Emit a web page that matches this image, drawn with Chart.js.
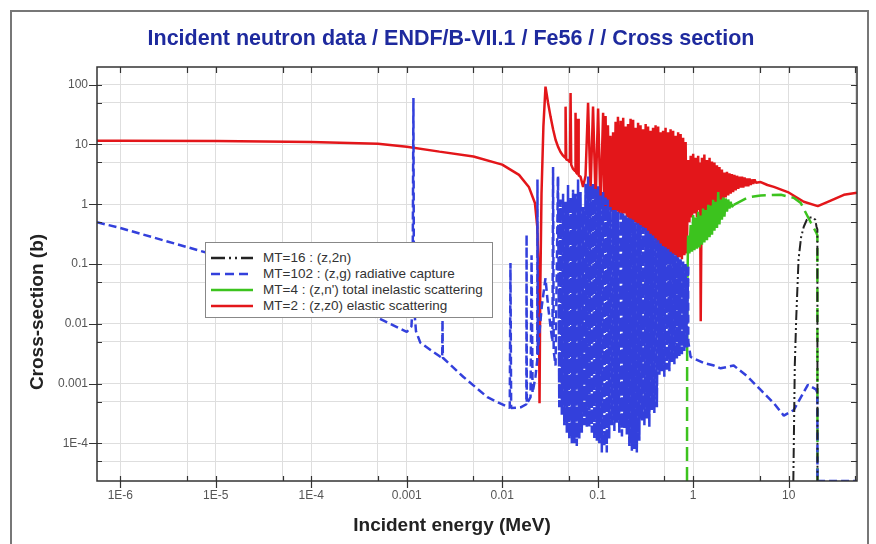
<!DOCTYPE html>
<html>
<head>
<meta charset="utf-8">
<script src="https://cdn.jsdelivr.net/npm/chart.js@4.4.0/dist/chart.umd.min.js"></script>
<style>
  body { margin: 0; background: #fff; }
  #wrap { position: relative; width: 876px; height: 544px; overflow: hidden;
          font-family: "Liberation Sans", Arial, sans-serif; }
  #frame { position: absolute; left: 10px; top: 10px; width: 859px; height: 560px;
           border: 2px solid #777; box-sizing: border-box; }
  #xs { position: absolute; left: 0; top: 0; }
  #title { position: absolute; left: 0; top: 25px; width: 902px; text-align: center;
           font-weight: bold; font-size: 21.5px; line-height: 26px; color: #1e2a9e; }
  #xtitle { position: absolute; left: 0; top: 513px; width: 904px; text-align: center;
            font-weight: bold; font-size: 19px; line-height: 24px; color: #222; }
  #ytitle { position: absolute; left: -63px; top: 300px; width: 200px; text-align: center;
            font-weight: bold; font-size: 19px; line-height: 24px; color: #222;
            transform: rotate(-90deg); }
  #legend { position: absolute; left: 205px; top: 242px; width: 288px; height: 76px;
            box-sizing: border-box; border: 1px solid #888; background: #fff; padding-top: 7px; }
  #legend .row { position: relative; height: 16px; font-size: 13.5px; line-height: 16px; color: #333; }
  #legend svg { position: absolute; left: 5px; top: 3px; }
  #legend span { position: absolute; left: 57px; top: 0; white-space: nowrap; }
</style>
</head>
<body>
<div id="wrap">
  <div id="frame"></div>
  <canvas id="xs" width="876" height="544"></canvas>
  <div id="title">Incident neutron data / ENDF/B-VII.1 / Fe56 / / Cross section</div>
  <div id="xtitle">Incident energy (MeV)</div>
  <div id="ytitle">Cross-section (b)</div>
  <div id="legend"></div>
</div>
<script>
// axis ticks
const xTickValues = [1e-6, 1e-5, 1e-4, 1e-3, 1e-2, 0.1, 1, 10];
const xTickLabels = ['1E-6', '1E-5', '1E-4', '0.001', '0.01', '0.1', '1', '10'];
const xMinorTicks = [5e-6, 5e-5, 5e-4, 5e-3, 0.05, 0.5, 5, 50];
const yTickValues = [1e-4, 1e-3, 0.01, 0.1, 1, 10, 100];
const yTickLabels = ['1E-4', '0.001', '0.01', '0.1', '1', '10', '100'];
const yMinorTicks = [5e-5, 5e-4, 5e-3, 0.05, 0.5, 5, 50];

// [energy MeV, cross-section b]
const n2nMT16 = [
  [11.2, 2.34e-5], [11.6, 0.002], [12.0, 0.012], [12.7, 0.12], [13.5, 0.28], [14.4, 0.42],
  [15.5, 0.55], [16.5, 0.6], [18.0, 0.6], [19.0, 0.55], [19.6, 0.42], [20.0, 0.38], [20.05, 2.34e-5]
];

const captureMT102 = [
  [5.7e-7, 0.5], [1e-6, 0.4], [1e-5, 0.14], [1e-4, 0.045], [5e-4, 0.0125], [1e-3, 0.0073],
  [1.12e-3, 0.009], [1.15e-3, 0.02], [1.175e-3, 60], [1.19e-3, 0.02], [1.25e-3, 0.0075],
  [1.39e-3, 4.8e-3], [2.25e-3, 2.8e-3], [2.35e-3, 2.7e-3], [2.37e-3, 0.0115], [2.39e-3, 2.7e-3],
  [3.9e-3, 1.3e-3], [7.0e-3, 5.9e-4], [1.2e-2, 3.9e-4], [1.22e-2, 0.104], [1.24e-2, 3.9e-4],
  [1.56e-2, 4.0e-4], [1.79e-2, 4.5e-4], [1.80e-2, 0.31], [1.81e-2, 4.6e-4], [1.98e-2, 5.9e-4],
  [2.03e-2, 0.14], [2.08e-2, 7e-4], [2.23e-2, 1.3e-3], [2.33e-2, 2.5e-3], [2.34e-2, 2.6],
  [2.36e-2, 3e-3], [2.40e-2, 4.8e-3], [2.6e-2, 0.02], [2.84e-2, 0.058], [3.02e-2, 0.02],
  [3.21e-2, 8.8e-3], [3.36e-2, 5e-3], [3.41e-2, 4.2], [3.46e-2, 3.5e-3], [3.62e-2, 2e-3],
  [3.84e-2, 2.9], [3.96e-2, 4e-4], [4.08e-2, 1.2], [4.21e-2, 3e-4], [4.34e-2, 1.5],
  [4.47e-2, 2e-4], [4.61e-2, 1.1], [4.75e-2, 1.5e-4], [4.89e-2, 2.1], [5.04e-2, 1.2e-4],
  [5.2e-2, 1.3], [5.36e-2, 1e-4], [5.52e-2, 1.75], [5.69e-2, 1e-4], [5.86e-2, 1.5],
  [6.04e-2, 9e-5], [6.23e-2, 2.6], [6.42e-2, 1.2e-4], [6.61e-2, 1.6], [6.82e-2, 1.5e-4],
  [7.03e-2, 0.9], [7.24e-2, 2e-4], [7.46e-2, 2.2], [7.69e-2, 1.9e-4], [7.93e-2, 2.9],
  [8.17e-2, 1.9e-4], [8.42e-2, 2.0], [8.68e-2, 1.5e-4], [8.94e-2, 2.2], [9.22e-2, 1.2e-4],
  [9.5e-2, 1.8], [9.8e-2, 1.1e-4], [0.101, 2.0], [0.104, 1.0e-4], [0.107, 1.4], [0.1105, 7e-5],
  [0.114, 1.6], [0.1175, 9e-5], [0.121, 1.3], [0.1245, 7e-5], [0.128, 1.2], [0.132, 1.2e-4],
  [0.136, 0.9], [0.1405, 2e-4], [0.145, 0.8], [0.1495, 1.6e-4], [0.154, 0.8], [0.1585, 2.2e-4],
  [0.163, 0.75], [0.1685, 1.5e-4], [0.174, 0.72], [0.1795, 1.3e-4], [0.185, 0.7], [0.1905, 1.8e-4],
  [0.196, 0.65], [0.202, 1.4e-4], [0.208, 0.6], [0.2145, 9e-5], [0.221, 0.58], [0.228, 7.5e-5],
  [0.235, 0.55], [0.242, 8e-5], [0.249, 0.5], [0.257, 7e-5], [0.265, 0.48], [0.273, 1.1e-4],
  [0.281, 0.45], [0.290, 2.4e-4], [0.299, 0.42], [0.3085, 2e-4], [0.318, 0.4], [0.3275, 2.6e-4],
  [0.337, 0.36], [0.3475, 1.9e-4], [0.358, 0.32], [0.369, 3.6e-4], [0.380, 0.3], [0.392, 3.2e-4],
  [0.404, 0.27], [0.417, 4e-4], [0.430, 0.25], [0.443, 1.4e-3], [0.456, 0.22], [0.470, 1.6e-3],
  [0.484, 0.2], [0.499, 1.3e-3], [0.514, 0.19], [0.530, 1.7e-3], [0.547, 0.18], [0.5635, 1.6e-3],
  [0.580, 0.16], [0.5985, 2.3e-3], [0.617, 0.15], [0.636, 2.1e-3], [0.655, 0.14], [0.6755, 2.6e-3],
  [0.696, 0.13], [0.7175, 2.9e-3], [0.739, 0.12], [0.762, 3.1e-3], [0.785, 0.11], [0.8095, 3.5e-3],
  [0.834, 0.1], [0.8595, 4e-3], [0.885, 0.09], [0.89, 5e-3], [0.94, 2.8e-3], [1.29, 2.2e-3],
  [1.65, 2.0e-3], [1.94, 1.8e-3], [2.66, 2.0e-3], [3.73, 1.3e-3], [5.1, 7.8e-4], [7.0, 4.7e-4],
  [8.9, 2.9e-4], [11.3, 3.6e-4], [15.9, 9.5e-4], [19.3, 8e-4], [20.0, 7e-4], [20.05, 2.34e-5],
  [52, 2.34e-5]
];

const inelasticMT4 = [
  [0.862, 2.34e-5], [0.866, 0.02], [0.872, 0.06], [0.88, 0.15], [0.885, 0.3], [0.913, 0.15],
  [0.942, 0.45], [0.9705, 0.16], [1.0, 0.66], [1.031, 0.17], [1.062, 0.6], [1.095, 0.18],
  [1.128, 0.75], [1.164, 0.19], [1.20, 0.65], [1.235, 0.21], [1.27, 0.85], [1.31, 0.23],
  [1.35, 0.8], [1.395, 0.25], [1.44, 0.98], [1.485, 0.28], [1.53, 0.95], [1.575, 0.31],
  [1.62, 1.19], [1.67, 0.36], [1.72, 1.1], [1.775, 0.4], [1.83, 1.6], [1.885, 0.46],
  [1.94, 1.2], [2.0, 0.55], [2.06, 1.3], [2.125, 0.62], [2.19, 1.25], [2.26, 0.75],
  [2.33, 1.2], [2.40, 0.85], [2.47, 1.1], [2.545, 0.9], [2.66, 0.98], [3.73, 1.3],
  [5.1, 1.4], [8.3, 1.44], [11.3, 1.28], [13.4, 1.05], [17.1, 0.49], [19.6, 0.33], [20.0, 0.3],
  [20.05, 2.34e-5]
];

const elasticMT2 = [
  [5.7e-7, 11.6], [1e-6, 11.6], [1e-5, 11.4], [1e-4, 11.0], [5e-4, 10.3], [1e-3, 9.2],
  [2.2e-3, 7.6], [5e-3, 6.3], [1e-2, 4.6], [1.5e-2, 3.1], [1.9e-2, 1.95], [2.2e-2, 1.05],
  [2.33e-2, 0.42], [2.42e-2, 0.05], [2.46e-2, 4.7e-4], [2.5e-2, 0.03], [2.58e-2, 1.5],
  [2.7e-2, 20], [2.84e-2, 93], [3.02e-2, 50], [3.21e-2, 29], [3.41e-2, 18], [3.62e-2, 12],
  [3.84e-2, 9.2], [4.08e-2, 7.5], [4.34e-2, 6.5], [4.55e-2, 6.0], [4.61e-2, 43], [4.68e-2, 5.6],
  [4.89e-2, 5.5], [5.12e-2, 5.0], [5.2e-2, 73], [5.28e-2, 4.6], [5.52e-2, 3.9], [5.8e-2, 3.6],
  [5.86e-2, 34], [5.95e-2, 3.4], [6.15e-2, 3.2], [6.23e-2, 27], [6.32e-2, 3.0], [6.61e-2, 2.9],
  [7.03e-2, 1.95], [7.46e-2, 3.0], [7.93e-2, 50], [8.42e-2, 1.6], [8.94e-2, 43], [9.5e-2, 1.2],
  [0.101, 40], [0.107, 0.9], [0.114, 34], [0.1175, 0.8], [0.121, 30], [0.1245, 0.8],
  [0.128, 21], [0.132, 0.9], [0.136, 14], [0.1405, 0.75], [0.145, 16], [0.1495, 0.7],
  [0.154, 24], [0.1585, 0.75], [0.163, 29], [0.1685, 0.7], [0.174, 25], [0.1795, 0.65],
  [0.185, 28], [0.1905, 0.7], [0.196, 20], [0.202, 0.6], [0.208, 22], [0.2145, 0.55],
  [0.221, 27], [0.228, 0.5], [0.235, 26], [0.242, 0.5], [0.249, 19], [0.257, 0.45],
  [0.265, 23], [0.273, 0.42], [0.281, 21], [0.290, 0.4], [0.299, 18], [0.3085, 0.35],
  [0.318, 22], [0.3275, 0.33], [0.337, 20], [0.3475, 0.3], [0.358, 17], [0.369, 0.28],
  [0.380, 19], [0.392, 0.25], [0.404, 21], [0.417, 0.22], [0.430, 20], [0.443, 0.14],
  [0.456, 16], [0.470, 0.2], [0.484, 17], [0.499, 0.18], [0.514, 19], [0.530, 0.16],
  [0.547, 16], [0.5635, 0.15], [0.580, 18], [0.5985, 0.13], [0.617, 17], [0.636, 0.14],
  [0.655, 14], [0.6755, 0.12], [0.696, 16], [0.7175, 0.13], [0.739, 15], [0.762, 0.12],
  [0.785, 13], [0.8095, 0.14], [0.834, 11], [0.8595, 0.15], [0.885, 5.5], [0.913, 0.5],
  [0.942, 6.5], [0.9705, 0.6], [1.0, 7.0], [1.031, 0.7], [1.062, 6.0], [1.095, 0.6],
  [1.128, 6.5], [1.164, 0.8], [1.18, 5.0], [1.20, 0.011], [1.235, 6.0], [1.27, 0.7],
  [1.31, 6.8], [1.35, 0.65], [1.395, 5.5], [1.44, 0.6], [1.485, 6.0], [1.53, 0.55],
  [1.575, 5.2], [1.62, 0.6], [1.67, 5.0], [1.72, 0.55], [1.775, 4.5], [1.83, 0.6],
  [1.885, 4.2], [1.94, 0.8], [2.0, 3.8], [2.06, 1.0], [2.125, 3.4], [2.19, 1.3],
  [2.26, 3.5], [2.33, 1.4], [2.40, 3.3], [2.47, 1.5], [2.545, 3.2], [2.62, 1.6],
  [2.705, 3.1], [2.79, 1.7], [2.88, 3.0], [2.97, 1.8], [3.06, 2.9], [3.15, 1.9],
  [3.25, 2.9], [3.35, 1.9], [3.455, 2.8], [3.56, 2.0], [3.67, 2.7], [3.78, 2.0],
  [3.895, 2.7], [4.01, 2.1], [4.135, 2.6], [4.26, 2.2], [4.395, 2.6], [4.53, 2.3],
  [5.1, 2.35], [6.0, 2.1], [7.0, 1.95], [9.8, 1.6], [14.4, 1.1], [20.2, 0.93],
  [25.7, 1.1], [37.9, 1.44], [52, 1.56]
];

const toPoints = arr => arr.map(p => ({ x: p[0], y: p[1] }));

const tickFont = { family: '"Liberation Sans Narrow", "Liberation Sans", Arial, sans-serif', size: 12 };

// tick marks on all four sides plus the plot frame
const frameTicks = {
  id: 'frameTicks',
  afterDatasetsDraw(chart) {
    const ctx = chart.ctx, a = chart.chartArea;
    const xs = chart.scales.x, ys = chart.scales.y;
    ctx.save();
    ctx.strokeStyle = '#333';
    ctx.lineWidth = 1.2;
    ctx.beginPath();
    xs.ticks.forEach(t => {
      const px = Math.round(xs.getPixelForValue(t.value)) + 0.5;
      const major = xTickValues.includes(t.value);
      ctx.moveTo(px, a.bottom - 5); ctx.lineTo(px, a.bottom + (major ? 7 : 0));
      ctx.moveTo(px, a.top); ctx.lineTo(px, a.top + 6);
    });
    ys.ticks.forEach(t => {
      const py = Math.round(ys.getPixelForValue(t.value)) + 0.5;
      const major = yTickValues.includes(t.value);
      ctx.moveTo(a.left - (major ? 8 : 0), py); ctx.lineTo(a.left + 5, py);
      ctx.moveTo(a.right - 6, py); ctx.lineTo(a.right, py);
    });
    ctx.stroke();
    ctx.lineWidth = 1.5;
    ctx.strokeRect(a.left, a.top, a.right - a.left, a.bottom - a.top);
    ctx.restore();
  }
};

// dense resonance bands read as nearly solid strokes, the smooth parts as dashes
const greenDash = [14, 6];
const greenSegment = { borderDash: c => (c.p0.parsed.x > 0.87 && c.p0.parsed.x < 2.6 ? [] : greenDash) };
const blueDash = [8, 4];
const blueSegment = { borderDash: c => (c.p0.parsed.x > 0.038 && c.p0.parsed.x < 0.885 ? [14, 2] : blueDash) };

const chart = new Chart(document.getElementById('xs'), {
  type: 'line',
  data: {
    datasets: [
      { label: 'MT=16 : (z,2n)', data: toPoints(n2nMT16), borderColor: '#222222', borderWidth: 2,
        borderDash: [10, 3, 2, 3, 2, 3], legendDash: [14, 4, 2, 4, 2, 4] },
      { label: 'MT=102 : (z,g) radiative capture', data: toPoints(captureMT102), borderColor: '#3340dc',
        borderDash: blueDash, segment: blueSegment, legendDash: [9, 5] },
      { label: "MT=4 : (z,n') total inelastic scattering", data: toPoints(inelasticMT4), borderColor: '#3cc31e',
        borderDash: greenDash, segment: greenSegment, legendDash: [] },
      { label: 'MT=2 : (z,z0) elastic scattering', data: toPoints(elasticMT2), borderColor: '#e3161a',
        borderDash: [], legendDash: [] }
    ]
  },
  options: {
    responsive: false,
    animation: false,
    layout: { padding: { top: 67, right: 19, left: 0, bottom: 0 } },
    elements: {
      point: { radius: 0 },
      line: { borderWidth: 2.5, tension: 0, borderJoinStyle: 'bevel', fill: false }
    },
    scales: {
      x: {
        type: 'logarithmic', min: 5.7e-7, max: 52,
        afterFit: s => { s.height = 63; },
        afterBuildTicks: s => {
          s.ticks = xTickValues.concat(xMinorTicks).sort((a, b) => a - b).map(v => ({ value: v }));
        },
        ticks: {
          autoSkip: false, maxRotation: 0, padding: 7, color: '#555', font: tickFont,
          callback: v => { const i = xTickValues.indexOf(v); return i >= 0 ? xTickLabels[i] : ''; }
        },
        grid: { color: '#dedede', lineWidth: 1, drawTicks: false },
        border: { display: false }
      },
      y: {
        type: 'logarithmic', min: 2.34e-5, max: 198,
        afterFit: s => { s.width = 97; },
        afterBuildTicks: s => {
          s.ticks = yTickValues.concat(yMinorTicks).sort((a, b) => a - b).map(v => ({ value: v }));
        },
        ticks: {
          autoSkip: false, padding: 9, color: '#555', font: tickFont,
          callback: v => { const i = yTickValues.indexOf(v); return i >= 0 ? yTickLabels[i] : ''; }
        },
        grid: { color: '#dedede', lineWidth: 1, drawTicks: false },
        border: { display: false }
      }
    },
    plugins: { legend: { display: false }, tooltip: { enabled: false } }
  },
  plugins: [frameTicks]
});

// legend box drawn inside the plot, same order as the datasets
const legendBox = document.getElementById('legend');
chart.data.datasets.forEach(ds => {
  const row = document.createElement('div');
  row.className = 'row';
  row.innerHTML = '<svg width="42" height="10"><line x1="0" y1="5" x2="42" y2="5" stroke="' + ds.borderColor +
    '" stroke-width="2.5" stroke-dasharray="' + ds.legendDash.join(' ') + '"/></svg><span>' + ds.label + '</span>';
  legendBox.appendChild(row);
});
</script>
</body>
</html>
